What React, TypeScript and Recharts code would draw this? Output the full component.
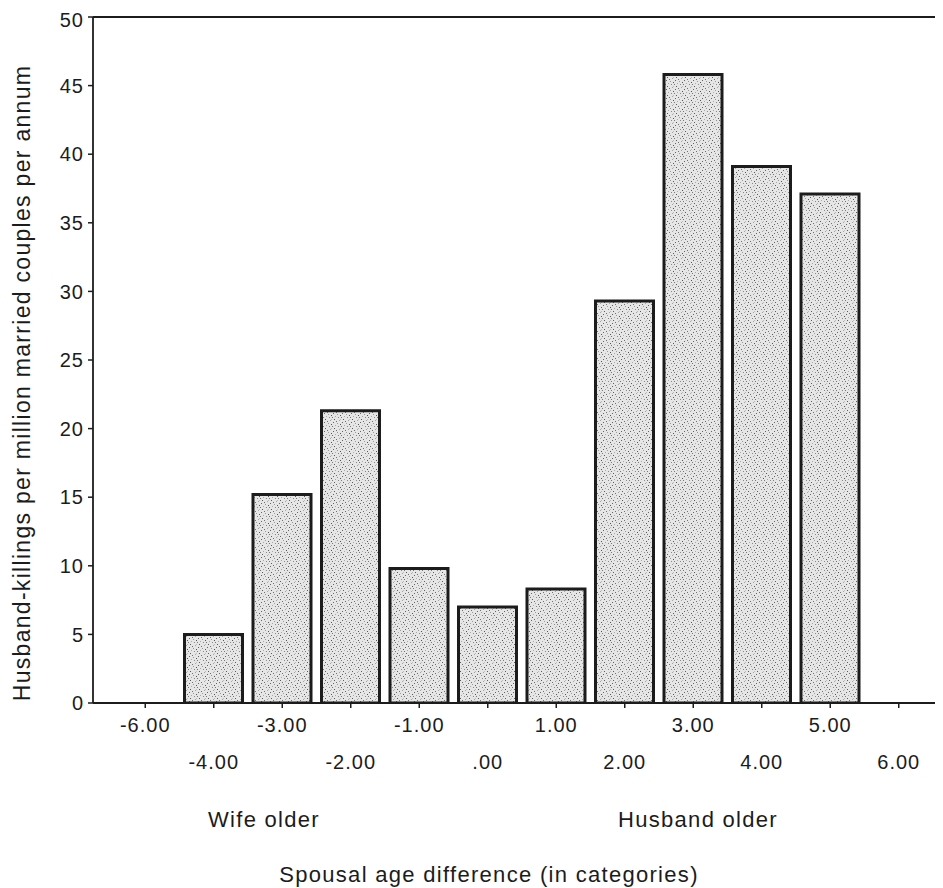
import React from 'react';
import { BarChart, Bar, XAxis, YAxis, ReferenceLine } from 'recharts';

// spousal age difference categories (-5 has no category in the source)
const categories = ['-6.00', '-4.00', '-3.00', '-2.00', '-1.00', '.00', '1.00', '2.00', '3.00', '4.00', '5.00', '6.00'];
// husband-killings per million married couples per annum
const rates: (number | null)[] = [null, 5.0, 15.2, 21.3, 9.8, 7.0, 8.3, 29.3, 45.8, 39.1, 37.1, null];
const yTicks = [0, 5, 10, 15, 20, 25, 30, 35, 40, 45, 50];

const data = categories.map((c, i) => ({ diff: c, rate: rates[i] }));

const FONT = '"Liberation Sans", Arial, sans-serif';
const INK = '#1c1c1c';

// stipple dots for the bar fill: [x, y, grey]
const dots: [number, number, string][] = [
  [1, 0, '#666'], [5, 1, '#9a9a9a'], [8, 2, '#555'], [3, 3, '#aaa'], [0, 4, '#777'],
  [6, 4, '#888'], [2, 6, '#5c5c5c'], [7, 7, '#a5a5a5'], [4, 8, '#707070'], [8, 6, '#bbb'],
];

function StaggerTick(props: any) {
  const { x, y, payload, index } = props;
  const low = index % 2 === 1;
  return (
    <text x={x} y={y} dy={low ? 59 : 22} textAnchor="middle" fontFamily={FONT} fontSize={20}
      letterSpacing={1} fill={INK}>
      {payload.value}
    </text>
  );
}

function BottomNotes(props: any) {
  const vb = props.viewBox || { x: 85, y: 695, width: 850 };
  const top = vb.y;
  return (
    <g fontFamily={FONT} fill={INK} fontSize={22} letterSpacing={1.3}>
      <text x={256} y={top + 124} textAnchor="middle">Wife older</text>
      <text x={690} y={top + 124} textAnchor="middle">Husband older</text>
      <text x={481} y={top + 179} textAnchor="middle">Spousal age difference (in categories)</text>
    </g>
  );
}

function YTitle() {
  return (
    <text x={22} y={375} transform="rotate(-90 22 375)" textAnchor="middle" fontFamily={FONT} fontSize={23}
      letterSpacing={1.3} fill={INK}>
      Husband-killings per million married couples per annum
    </text>
  );
}

export default function App() {
  return (
    <div style={{ width: 935, height: 880 }}>
      <BarChart width={935} height={880} data={data} margin={{ top: 9, right: 0, bottom: 0, left: 0 }} barSize={58}>
        <defs>
          <pattern id="stipple" width="9" height="9" patternUnits="userSpaceOnUse">
            <rect width="9" height="9" fill="#e6e6e6" />
            {dots.map(([dx, dy, c], i) => (
              <rect key={i} x={dx} y={dy} width="1" height="1" fill={c} />
            ))}
          </pattern>
        </defs>
        <XAxis
          dataKey="diff"
          height={185}
          padding={{ left: 18, right: 10 }}
          axisLine={{ stroke: INK, strokeWidth: 1.8 }}
          tickLine={{ stroke: INK, strokeWidth: 1.5 }}
          tickSize={5}
          interval={0}
          tick={<StaggerTick />}
          label={<BottomNotes />}
        />
        <YAxis
          width={85}
          domain={[0, 50]}
          ticks={yTicks}
          allowDataOverflow
          axisLine={{ stroke: INK, strokeWidth: 1.8 }}
          tickLine={{ stroke: INK, strokeWidth: 1.5 }}
          tickSize={5}
          tickMargin={4}
          tick={{ fontFamily: FONT, fontSize: 20, fill: INK, letterSpacing: 1 }}
          label={<YTitle />}
        />
        <ReferenceLine y={50} stroke={INK} strokeWidth={1.8} />
        <Bar dataKey="rate" fill="url(#stipple)" stroke={INK} strokeWidth={3} isAnimationActive={false} />
      </BarChart>
    </div>
  );
}
